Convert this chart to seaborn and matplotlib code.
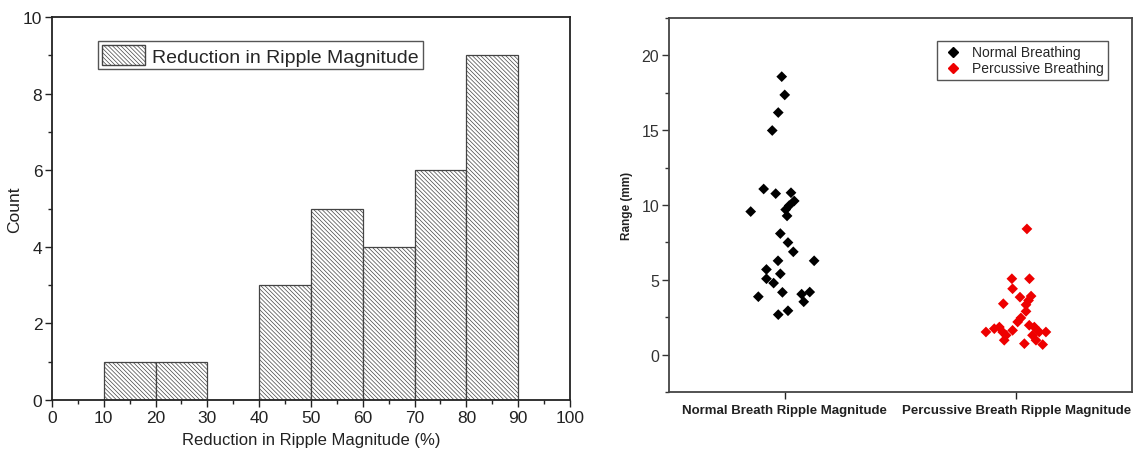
import numpy as np
import pandas as pd
import matplotlib
matplotlib.use("Agg")
import matplotlib.pyplot as plt
from matplotlib.patches import Patch
from matplotlib.lines import Line2D
from matplotlib.ticker import MultipleLocator
import seaborn as sns

# Histogram of ripple-magnitude reduction (bin edges in %, counts per bin)
bin_edges = [10, 20, 30, 40, 50, 60, 70, 80, 90]
bin_counts = [1, 1, 0, 3, 5, 4, 6, 9]

# Ripple range per breath, in mm
normal_range = [18.58, 17.36, 16.18, 14.98, 11.07, 10.76, 10.82, 10.27, 9.96, 9.69,
                9.56, 9.27, 8.09, 7.49, 6.87, 6.27, 6.27, 5.69, 5.07, 5.40,
                4.78, 4.16, 3.87, 4.04, 4.18, 3.53, 2.93, 2.67]
normal_spread = [-0.013, 0.000, -0.028, -0.054, -0.091, -0.039, 0.027, 0.041, 0.019, 0.004,
                 -0.147, 0.010, -0.019, 0.014, 0.037, -0.029, 0.127, -0.079, -0.079, -0.019,
                 -0.048, -0.010, -0.114, 0.073, 0.108, 0.082, 0.014, -0.028]
percussive_range = [8.40, 5.07, 5.07, 4.40, 3.84, 3.91, 3.62, 3.40, 3.33, 2.89,
                    2.45, 2.18, 1.96, 1.51, 1.73, 1.84, 1.51, 1.29, 1.62, 0.96,
                    1.84, 1.51, 1.51, 1.29, 0.96, 0.73, 0.67]
percussive_spread = [0.046, -0.019, 0.057, -0.016, 0.016, 0.064, 0.053, -0.056, 0.042, 0.042,
                     0.020, 0.006, 0.056, -0.131, -0.095, -0.073, -0.059, -0.044, -0.016, -0.052,
                     0.078, 0.099, 0.128, 0.070, 0.085, 0.035, 0.114]
categories = ["Normal Breath Ripple Magnitude", "Percussive Breath Ripple Magnitude"]
series_names = ["Normal Breathing", "Percussive Breathing"]
series_colors = ["#000000", "#ee0000"]

sns.set_style("ticks")
plt.rcParams["font.family"] = ["Liberation Sans", "DejaVu Sans"]
plt.rcParams["hatch.linewidth"] = 0.5
plt.rcParams["hatch.color"] = "#444444"

fig = plt.figure(figsize=(11.35, 4.56), dpi=100)
ax1 = fig.add_axes([0.0458, 0.1206, 0.4564, 0.8399])
ax2 = fig.add_axes([0.5894, 0.1382, 0.408, 0.8201])

HATCH = "\\" * 8

# ---- left: histogram ----
centers = [(a + b) / 2 for a, b in zip(bin_edges[:-1], bin_edges[1:])]
sns.histplot(x=centers, weights=bin_counts, bins=bin_edges, ax=ax1,
             color="white", edgecolor="#444444", linewidth=0.9, alpha=1.0)
for p in ax1.patches:
    p.set_hatch(HATCH)
    p.set_facecolor("white")

ax1.set_xlim(0, 100)
ax1.set_ylim(0, 10)
ax1.xaxis.set_major_locator(MultipleLocator(10))
ax1.xaxis.set_minor_locator(MultipleLocator(5))
ax1.yaxis.set_major_locator(MultipleLocator(2))
ax1.yaxis.set_minor_locator(MultipleLocator(1))
ax1.tick_params(which="major", direction="out", length=5, width=1, labelsize=12.5,
                colors="#222222", pad=2)
ax1.tick_params(which="minor", direction="out", length=3, width=1, colors="#222222")
ax1.set_xlabel("Reduction in Ripple Magnitude (%)", fontsize=12, color="#222222", labelpad=5)
ax1.set_ylabel("Count", fontsize=12.5, color="#222222")
ax1.yaxis.set_label_coords(-0.058, 0.5)
for s in ax1.spines.values():
    s.set_linewidth(1.3)
    s.set_color("#222222")
ax1.legend(handles=[Patch(facecolor="white", edgecolor="#444444", hatch=HATCH,
                          label="Reduction in Ripple Magnitude")],
           loc="upper left", bbox_to_anchor=(0.0888, 0.937), fontsize=14,
           frameon=True, fancybox=False, edgecolor="#555555", framealpha=1,
           handlelength=2.2, handleheight=1.2, borderpad=0.2, handletextpad=0.4,
           borderaxespad=0)

# ---- right: strip of ranges ----
frames = []
for i, (vals, spread, name) in enumerate([(normal_range, normal_spread, series_names[0]),
                                           (percussive_range, percussive_spread, series_names[1])]):
    frames.append(pd.DataFrame({"pos": np.array(spread) + i, "range": vals, "series": name}))
df = pd.concat(frames, ignore_index=True)

sns.scatterplot(data=df, x="pos", y="range", hue="series", marker="D", s=30,
                palette=dict(zip(series_names, series_colors)), linewidth=0,
                ax=ax2, legend=False)
ax2.set_xlim(-0.5, 1.5)
ax2.set_ylim(-2.5, 22.5)
ax2.set_xticks([0, 1])
ax2.set_xticklabels(categories, fontweight="bold", fontsize=9.5)
ax2.yaxis.set_major_locator(MultipleLocator(5))
ax2.yaxis.set_minor_locator(MultipleLocator(2.5))
ax2.tick_params(axis="y", which="major", direction="out", length=5, width=1,
                labelsize=11.5, colors="#333333", pad=2)
ax2.tick_params(axis="y", which="minor", direction="out", length=3, width=1, colors="#333333")
ax2.tick_params(axis="x", which="major", direction="out", length=5, width=1,
                colors="#222222", pad=4)
ax2.set_xlabel("")
ax2.set_ylabel("Range (mm)", fontweight="bold", fontsize=8.5, color="#222222")
ax2.yaxis.set_label_coords(-0.078, 0.5)
for s in ax2.spines.values():
    s.set_linewidth(1.3)
    s.set_color("#444444")
handles = [Line2D([], [], marker="D", linestyle="none", markersize=5.5,
                  markerfacecolor=c, markeredgecolor=c, label=n)
           for n, c in zip(series_names, series_colors)]
ax2.legend(handles=handles, loc="upper right", bbox_to_anchor=(0.948, 0.938),
           fontsize=10, frameon=True, fancybox=False, edgecolor="#555555",
           framealpha=1, borderpad=0.3, handletextpad=0.6, labelspacing=0.15,
           borderaxespad=0, handlelength=1.6)

fig.savefig("out.png", dpi=100, facecolor="white")
